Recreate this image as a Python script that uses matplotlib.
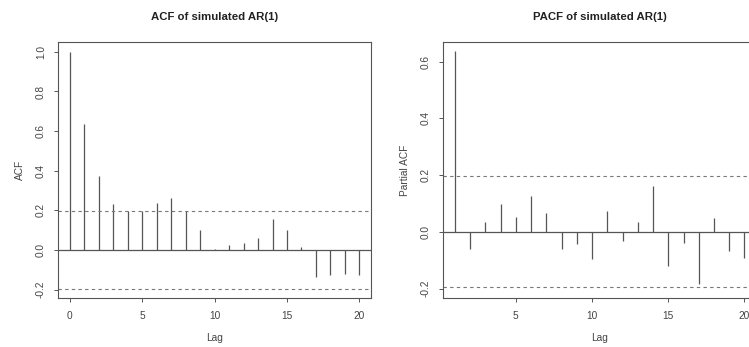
import numpy as np
import matplotlib.pyplot as plt

# ACF / PACF values (simulated AR(1), n = 100)
acf_lags = list(range(0, 21))
acf_vals = [1.0, 0.638, 0.373, 0.231, 0.199, 0.199, 0.238, 0.261, 0.197, 0.101,
            0.005, 0.025, 0.034, 0.062, 0.154, 0.101, 0.013, -0.138, -0.127, -0.123, -0.127]

pacf_lags = list(range(1, 21))
pacf_vals = [0.639, -0.062, 0.035, 0.098, 0.053, 0.125, 0.067, -0.062, -0.042, -0.097,
             0.073, -0.033, 0.033, 0.161, -0.121, -0.039, -0.183, 0.048, -0.068, -0.094]

conf = 1.96 / np.sqrt(100)

plt.rcParams['font.family'] = ['Liberation Sans', 'DejaVu Sans']

line_col = '#555555'
text_col = '#444444'

fig = plt.figure(figsize=(7.49, 3.47), dpi=100)
ax1 = fig.add_axes([0.0778, 0.1403, 0.4175, 0.7378])
ax2 = fig.add_axes([0.5919, 0.1403, 0.4175, 0.7378])


def r_style(ax, lags, vals, title, ylabel, xlim, ylim, yticks, xticks):
    ax.vlines(lags, 0, vals, color=line_col, linewidth=0.9)
    ax.axhline(0, color=line_col, linewidth=0.9)
    for c in (conf, -conf):
        ax.axhline(c, color='#777777', linewidth=0.8, linestyle=(0, (3, 3)))
    ax.set_xlim(*xlim)
    ax.set_ylim(*ylim)
    ax.set_xticks(xticks)
    ax.set_yticks(yticks)
    ax.set_yticklabels([f'{t:.1f}' for t in yticks], rotation=90, va='center')
    ax.tick_params(direction='out', length=3, width=0.7, colors=line_col,
                   labelcolor=text_col, labelsize=7.3, pad=6)
    for s in ax.spines.values():
        s.set_color(line_col)
        s.set_linewidth(0.8)
    ax.set_title(title, fontsize=8.2, fontweight='bold', color='#222222', pad=16)
    ax.set_xlabel('Lag', fontsize=7.3, color=text_col, labelpad=9)
    ax.set_ylabel(ylabel, fontsize=7.3, color=text_col, labelpad=8)


r_style(ax1, acf_lags, acf_vals, 'ACF of simulated AR(1)', 'ACF',
        (-0.8, 20.8), (-0.244, 1.048), [-0.2, 0.0, 0.2, 0.4, 0.6, 0.8, 1.0],
        [0, 5, 10, 15, 20])
r_style(ax2, pacf_lags, pacf_vals, 'PACF of simulated AR(1)', 'Partial ACF',
        (0.24, 20.76), (-0.2345, 0.668), [-0.2, 0.0, 0.2, 0.4, 0.6],
        [5, 10, 15, 20])

fig.savefig('out.png', dpi=100)
